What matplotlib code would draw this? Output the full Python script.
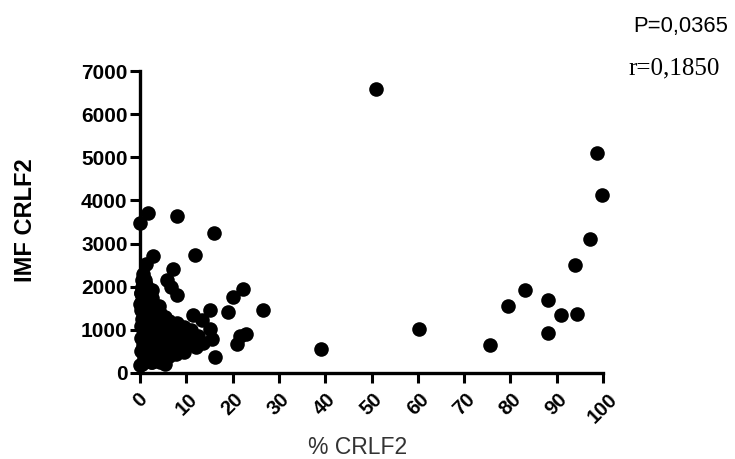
import matplotlib
matplotlib.use("Agg")
import matplotlib.pyplot as plt

# % CRLF2 (x) vs IMF CRLF2 (y)
pct_crlf2 = [
    # outliers / sparse points
    51.0, 98.6, 99.8, 97.2, 94.0, 83.2, 79.4, 88.1, 90.9, 94.4, 88.1, 75.6,
    60.3, 39.1,
    1.8, 0.0, 7.9, 16.0, 11.9, 2.9, 1.4, 7.2, 5.8, 6.8, 7.9, 1.1, 2.5,
    22.3, 20.0, 19.1, 26.5, 15.1, 11.5, 13.3, 9.4, 15.1, 15.5, 23.0, 21.6,
    20.9, 11.9, 9.4, 16.2, 5.4, 4.3, 10.4, 7.9, 6.8, 3.6, 1.4, 0.0,
    # dense cluster near the origin
    0.2, 0.5, 0.3, 0.8, 0.2, 0.6, 0.3, 0.9, 0.4, 1.2, 1.5, 1.8, 1.3, 2.0,
    1.6, 2.2, 2.6, 2.9, 3.1, 2.7, 3.4, 3.0, 3.8, 4.2, 4.5, 3.9, 4.8, 5.2,
    5.6, 6.0, 6.4, 7.0, 7.5, 8.2, 6.6, 0.5, 1.0, 0.4, 1.6, 2.2, 3.3, 0.7,
    4.6, 5.5, 2.5, 9.0, 10.0, 12.5, 13.5, 8.5, 0.1, 0.2, 1.1, 0.6, 2.4,
    3.6, 5.0, 6.2, 7.2, 4.0,
    1.0, 2.5, 4.0, 5.8, 7.8, 8.8, 6.2, 9.5, 11.0, 3.2, 1.8, 0.3, 4.4, 7.0,
    8.0, 10.8, 12.0, 0.9, 2.0, 3.5, 5.2, 6.8, 9.8, 0.4, 1.4, 2.8,
]
imf_crlf2 = [
    6580, 5090, 4120, 3095, 2500, 1935, 1548, 1687, 1339, 1378, 928, 659,
    1030, 566,
    3698, 3480, 3636, 3234, 2731, 2708, 2538, 2422, 2151, 1995, 1803, 2151, 1919,
    1958, 1763, 1415, 1471, 1471, 1339, 1239, 1067, 1030, 798, 914, 851,
    666, 759, 487, 371, 218, 250, 835, 759, 600, 450, 295, 180,
    1450, 1250, 1100, 950, 800, 650, 500, 350, 200, 1350, 1150, 1000, 850, 700,
    550, 400, 1300, 1100, 900, 750, 600, 450, 1200, 1000, 850, 700, 550, 950,
    800, 650, 1050, 900, 750, 950, 500, 1700, 1900, 2000, 1600, 1500, 1400, 2300,
    1150, 1300, 1750, 1000, 650, 850, 700, 600, 1600, 1850, 1250, 1000, 250,
    300, 350, 400, 1100, 1550,
    450, 250, 300, 400, 450, 800, 1200, 850, 1000, 1550, 1750, 1850, 1400, 600,
    1150, 750, 600, 1550, 1250, 1000, 1150, 1050, 700, 2150, 2050, 1200,
]

x_ticks = list(range(0, 101, 10))
y_ticks = list(range(0, 7001, 1000))

fig = plt.figure(figsize=(7.35, 4.59), dpi=100)
ax = fig.add_axes([140 / 735, 1 - 373 / 459, 463 / 735, 302 / 459])

ax.plot(pct_crlf2, imf_crlf2, 'o', color='black', markersize=10.5,
        markeredgewidth=0, clip_on=False)

ax.set_xlim(0, 100)
ax.set_ylim(0, 7000)
ax.set_xticks(x_ticks)
ax.set_yticks(y_ticks)
ax.set_xticklabels([str(t) for t in x_ticks], rotation=45, ha='center',
                   fontsize=14.5, fontweight='bold', family='Liberation Sans')
ax.set_yticklabels([str(t) for t in y_ticks], fontsize=15,
                   fontweight='bold', family='Liberation Sans')
ax.tick_params(axis='x', length=7, width=2.2, pad=5)
ax.tick_params(axis='y', length=7, width=2.2, pad=2)

for side in ['top', 'right']:
    ax.spines[side].set_visible(False)
for side in ['left', 'bottom']:
    ax.spines[side].set_linewidth(2.4)

fig.text(25 / 735, 1 - 220 / 459, 'IMF CRLF2', rotation=90, ha='center',
         va='center', fontsize=17, fontweight='bold', family='Liberation Sans')
fig.text(358 / 735, 1 - 454 / 459, '% CRLF2', ha='center', va='baseline',
         fontsize=16.5, color='#333333', family='Liberation Sans')

fig.text(633 / 735, 1 - 32 / 459, 'P=0,0365', ha='left', va='baseline',
         fontsize=15.8, family='Liberation Sans')
fig.text(628 / 735, 1 - 74 / 459, 'r=0,1850', ha='left', va='baseline',
         fontsize=18, family='Liberation Serif')

fig.savefig('out.png', dpi=100)
